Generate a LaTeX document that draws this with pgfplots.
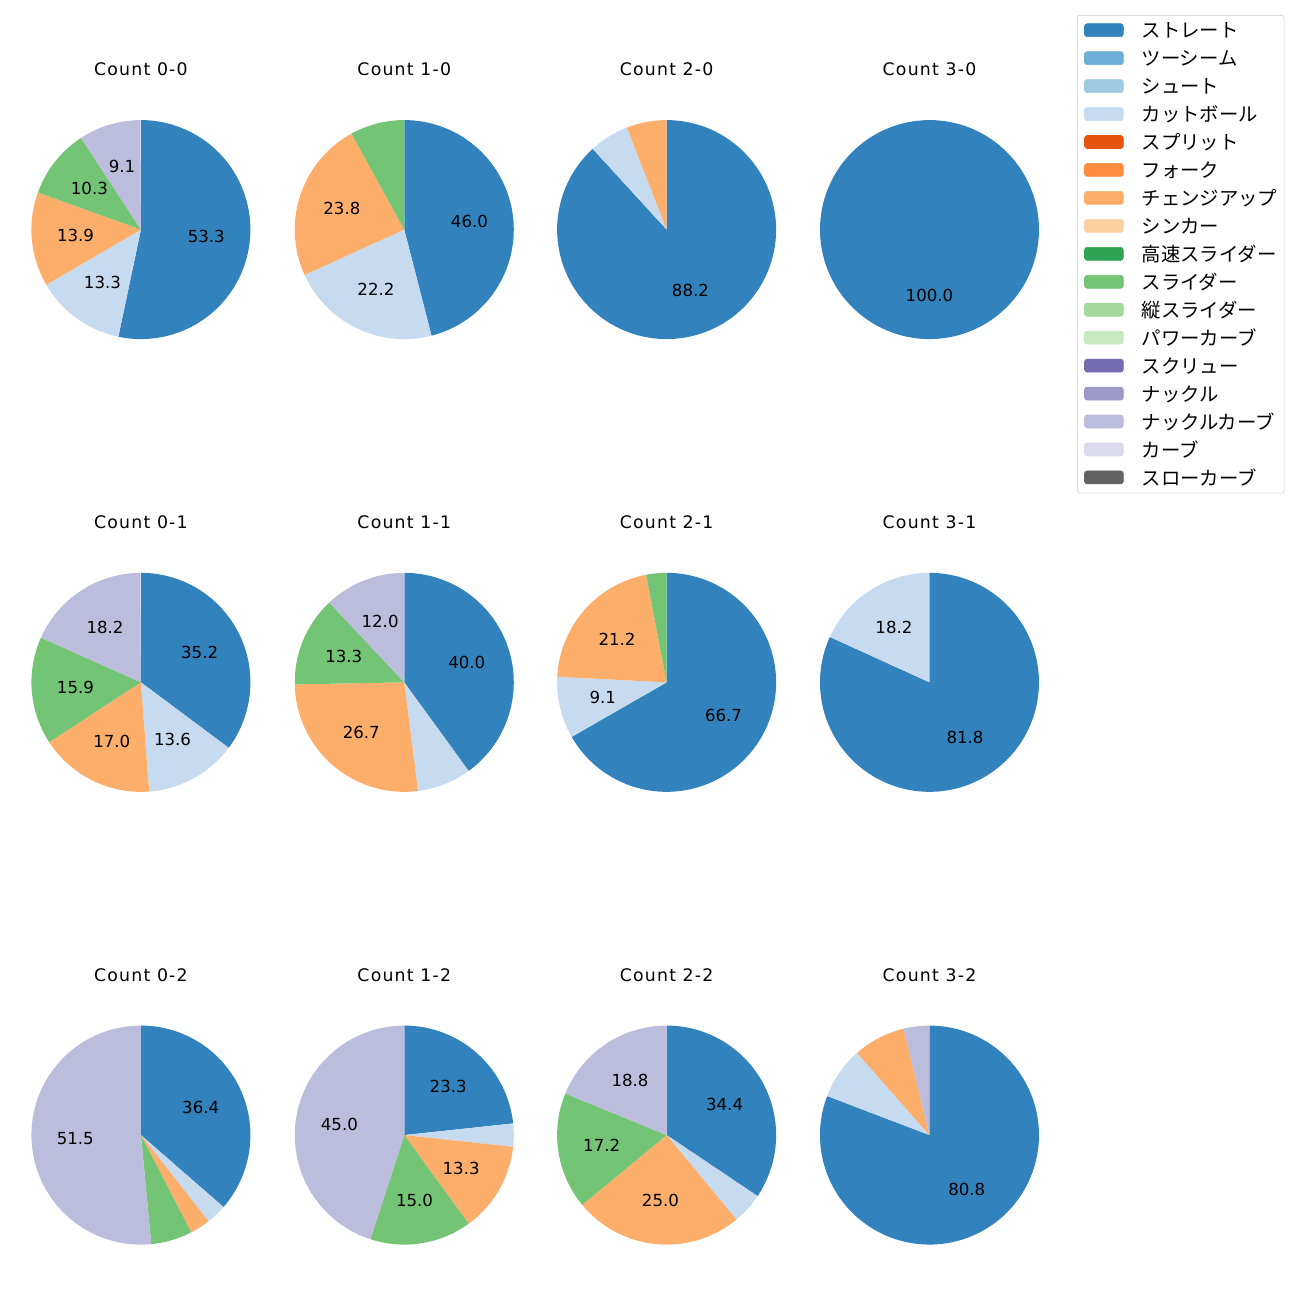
\documentclass[border=0pt]{standalone}
\usepackage{pgfplots}
\pgfplotsset{compat=1.18}
\usepackage{fontspec}
\setmainfont{Noto Sans CJK JP}
\newfontfamily\titlefont[LetterSpace=7]{DejaVu Sans}
\newfontfamily\labelfont{DejaVu Sans}
\definecolor{s1}{HTML}{3182BD}
\definecolor{s2}{HTML}{6BAED6}
\definecolor{s3}{HTML}{9ECAE1}
\definecolor{s4}{HTML}{C6DBEF}
\definecolor{s5}{HTML}{E6550D}
\definecolor{s6}{HTML}{FD8D3C}
\definecolor{s7}{HTML}{FDAE6B}
\definecolor{s8}{HTML}{FDD0A2}
\definecolor{s9}{HTML}{31A354}
\definecolor{s10}{HTML}{74C476}
\definecolor{s11}{HTML}{A1D99B}
\definecolor{s12}{HTML}{C7E9C0}
\definecolor{s13}{HTML}{756BB1}
\definecolor{s14}{HTML}{9E9AC8}
\definecolor{s15}{HTML}{BCBDDC}
\definecolor{s16}{HTML}{DADAEB}
\definecolor{s17}{HTML}{636363}

% #1 value (percent), #2 colour, #3 label shown (1/0)
\newcommand\slice[3]{%
  \pgfmathsetmacro\sa{90-3.6*\cum}%
  \pgfmathsetmacro\sb{90-3.6*(\cum+#1)}%
  \pgfmathsetmacro\sm{90-1.8*(2*\cum+#1)}%
  \pgfmathsetmacro\lx{0.6*cos(\sm)}%
  \pgfmathsetmacro\ly{0.6*sin(\sm)}%
  \edef\tmp{\noexpand\addplot[fill=#2, draw=none, domain=\sb:\sa, samples=120] ({cos(x)},{sin(x)}) -- (axis cs:0,0) -- cycle;}%
  \tmp
  \ifnum#3=1
    \edef\tmp{\noexpand\node at (axis cs:\lx,\ly) {#1};}%
    \tmp
  \fi
  \pgfmathsetmacro\newcum{\cum+#1}\xdef\cum{\newcum}%
}

% #1 x px, #2 y px, #3 title, #4 slices
\newcommand\pie[4]{%
  \pgfmathsetlengthmacro\px{#1*0.01in}%
  \pgfmathsetlengthmacro\py{(1300-#2)*0.01in}%
  \pgfmathsetlengthmacro\ty{(1300-#2+160)*0.01in}%
  \begin{axis}[at={(\px,\py)}, anchor=center, scale only axis,
    width=2.19in, height=2.19in, xmin=-1, xmax=1, ymin=-1, ymax=1,
    hide axis, clip=false]
    \gdef\cum{0}%
    #4
  \end{axis}
  \node[font=\titlefont\fontsize{12.5}{14}\selectfont] at (\px,\ty) {#3};
}

\begin{document}
\begin{tikzpicture}[font=\labelfont\fontsize{12}{14}\selectfont]
\path (0,0) rectangle (13in,13in);

\pie{141}{229}{Count 0-0}{\slice{53.3}{s1}{1}\slice{13.3}{s4}{1}\slice{13.9}{s7}{1}\slice{10.3}{s10}{1}\slice{9.1}{s15}{1}}
\pie{404.5}{229}{Count 1-0}{\slice{46.0}{s1}{1}\slice{22.2}{s4}{1}\slice{23.8}{s7}{1}\slice{8.0}{s10}{0}}
\pie{667}{229}{Count 2-0}{\slice{88.2}{s1}{1}\slice{5.9}{s4}{0}\slice{5.9}{s7}{0}}
\pie{930}{229}{Count 3-0}{\slice{100.0}{s1}{1}}

\pie{141}{682}{Count 0-1}{\slice{35.2}{s1}{1}\slice{13.6}{s4}{1}\slice{17.0}{s7}{1}\slice{15.9}{s10}{1}\slice{18.2}{s15}{1}}
\pie{404.5}{682}{Count 1-1}{\slice{40.0}{s1}{1}\slice{8.0}{s4}{0}\slice{26.7}{s7}{1}\slice{13.3}{s10}{1}\slice{12.0}{s15}{1}}
\pie{667}{682}{Count 2-1}{\slice{66.7}{s1}{1}\slice{9.1}{s4}{1}\slice{21.2}{s7}{1}\slice{3.0}{s10}{0}}
\pie{930}{682}{Count 3-1}{\slice{81.8}{s1}{1}\slice{18.2}{s4}{1}}

\pie{141}{1135}{Count 0-2}{\slice{36.4}{s1}{1}\slice{3.0}{s4}{0}\slice{3.0}{s7}{0}\slice{6.1}{s10}{0}\slice{51.5}{s15}{1}}
\pie{404.5}{1135}{Count 1-2}{\slice{23.3}{s1}{1}\slice{3.4}{s4}{0}\slice{13.3}{s7}{1}\slice{15.0}{s10}{1}\slice{45.0}{s15}{1}}
\pie{667}{1135}{Count 2-2}{\slice{34.4}{s1}{1}\slice{4.6}{s4}{0}\slice{25.0}{s7}{1}\slice{17.2}{s10}{1}\slice{18.8}{s15}{1}}
\pie{930}{1135}{Count 3-2}{\slice{80.8}{s1}{1}\slice{7.7}{s4}{0}\slice{7.7}{s7}{0}\slice{3.8}{s15}{0}}

\begin{axis}[at={(10.77in,12.85in)}, anchor=north west, scale only axis,
  width=1in, height=1in, xmin=0, xmax=1, ymin=0, ymax=1, hide axis,
  legend image code/.code={\fill[#1] (0pt,-4.4pt) rectangle (28.1pt,5pt);},
  legend style={at={(0,1)}, anchor=north west, draw=black!20, rounded corners=2pt,
    fill=white, inner xsep=5pt, inner ysep=1pt, font=\rmfamily\fontsize{14}{16}\selectfont,
    row sep=0pt, nodes={inner sep=0pt, text height=15.3pt, text depth=4.9pt, anchor=west},
    /tikz/every odd column/.append style={column sep=13pt}},
  legend cell align=left]
\addlegendimage{s1}\addlegendentry{ストレート}
\addlegendimage{s2}\addlegendentry{ツーシーム}
\addlegendimage{s3}\addlegendentry{シュート}
\addlegendimage{s4}\addlegendentry{カットボール}
\addlegendimage{s5}\addlegendentry{スプリット}
\addlegendimage{s6}\addlegendentry{フォーク}
\addlegendimage{s7}\addlegendentry{チェンジアップ}
\addlegendimage{s8}\addlegendentry{シンカー}
\addlegendimage{s9}\addlegendentry{高速スライダー}
\addlegendimage{s10}\addlegendentry{スライダー}
\addlegendimage{s11}\addlegendentry{縦スライダー}
\addlegendimage{s12}\addlegendentry{パワーカーブ}
\addlegendimage{s13}\addlegendentry{スクリュー}
\addlegendimage{s14}\addlegendentry{ナックル}
\addlegendimage{s15}\addlegendentry{ナックルカーブ}
\addlegendimage{s16}\addlegendentry{カーブ}
\addlegendimage{s17}\addlegendentry{スローカーブ}
\end{axis}
\end{tikzpicture}
\end{document}
